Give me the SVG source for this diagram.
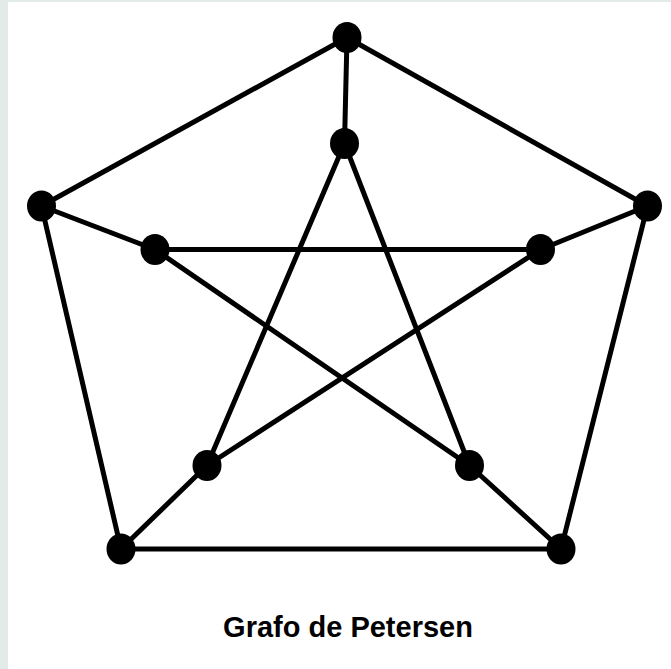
<svg xmlns="http://www.w3.org/2000/svg" width="671" height="669" viewBox="0 0 671 669">
<style>
.e{stroke:#000;stroke-width:5;fill:none;stroke-linecap:round}
.n{fill:#000}
.t{font-family:"Liberation Sans",Arial,sans-serif;font-weight:bold;font-size:29px;fill:#000}
</style>
<rect x="0" y="0" width="671" height="669" fill="#e2ebe8"/>
<rect x="8" y="2" width="663" height="667" fill="#fff"/>
<g id="connectors">
<line class="e" x1="347" y1="37.5" x2="41.5" y2="206"/>
<line class="e" x1="347" y1="37.5" x2="647.5" y2="206"/>
<line class="e" x1="647.5" y1="206" x2="561" y2="549"/>
<line class="e" x1="561" y1="549" x2="121" y2="549"/>
<line class="e" x1="121" y1="549" x2="41.5" y2="206"/>
<line class="e" x1="347" y1="37.5" x2="344.5" y2="143.5"/>
<line class="e" x1="41.5" y1="206" x2="155" y2="249.5"/>
<line class="e" x1="647.5" y1="206" x2="540.5" y2="249.5"/>
<line class="e" x1="121" y1="549" x2="207" y2="465.5"/>
<line class="e" x1="561" y1="549" x2="469.5" y2="465.5"/>
<line class="e" x1="344.5" y1="143.5" x2="207" y2="465.5"/>
<line class="e" x1="344.5" y1="143.5" x2="469.5" y2="465.5"/>
<line class="e" x1="155" y1="249.5" x2="540.5" y2="249.5"/>
<line class="e" x1="155" y1="249.5" x2="469.5" y2="465.5"/>
<line class="e" x1="540.5" y1="249.5" x2="207" y2="465.5"/>
</g>
<g id="n1"><ellipse class="n" cx="347" cy="37.5" rx="14.5" ry="15.5"/></g>
<g id="n2"><ellipse class="n" cx="647.5" cy="206" rx="14.5" ry="15.5"/></g>
<g id="n3"><ellipse class="n" cx="561" cy="549" rx="14.5" ry="15.5"/></g>
<g id="n4"><ellipse class="n" cx="121" cy="549" rx="14.5" ry="15.5"/></g>
<g id="n5"><ellipse class="n" cx="41.5" cy="206" rx="14.5" ry="15.5"/></g>
<g id="n6"><ellipse class="n" cx="344.5" cy="143.5" rx="14.5" ry="15.5"/></g>
<g id="n7"><ellipse class="n" cx="540.5" cy="249.5" rx="14.5" ry="15.5"/></g>
<g id="n8"><ellipse class="n" cx="469.5" cy="465.5" rx="14.5" ry="15.5"/></g>
<g id="n9"><ellipse class="n" cx="207" cy="465.5" rx="14.5" ry="15.5"/></g>
<g id="n10"><ellipse class="n" cx="155" cy="249.5" rx="14.5" ry="15.5"/></g>
<text class="t" x="348" y="637" text-anchor="middle">Grafo de Petersen</text>
</svg>
